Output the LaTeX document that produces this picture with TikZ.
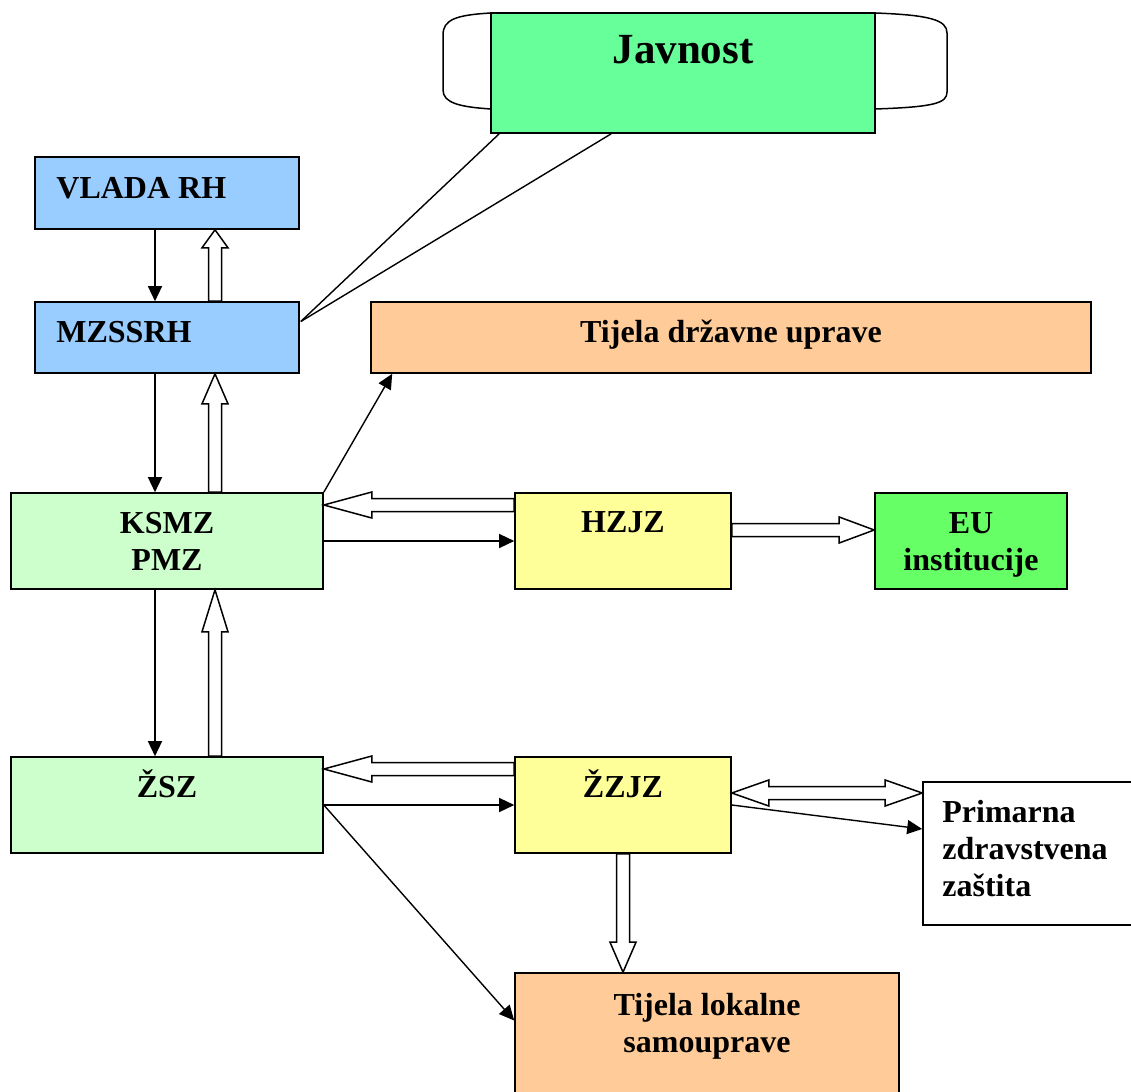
\documentclass[tikz,border=0pt]{standalone}
\usepackage{fontspec}
\setmainfont{Liberation Serif}
\usetikzlibrary{calc,positioning,arrows.meta}

\definecolor{blueBox}{HTML}{99CCFF}
\definecolor{javGreen}{HTML}{66FF99}
\definecolor{orangeBox}{HTML}{FFCC99}
\definecolor{paleGreen}{HTML}{CCFFCC}
\definecolor{yellowBox}{HTML}{FFFF99}
\definecolor{euGreen}{HTML}{66FF66}

% hollow block arrow: start, end, head length
\newcommand{\blockarrow}[3]{%
	\coordinate (ba-s) at (#1);
	\coordinate (ba-e) at (#2);
	\coordinate (ba-b) at ($(ba-e)!#3pt!(ba-s)$);
	\draw[blockline] ($(ba-s)!6.5pt!90:(ba-e)$) -- ($(ba-b)!6.5pt!90:(ba-e)$) -- ($(ba-b)!13pt!90:(ba-e)$) -- (ba-e)
		-- ($(ba-b)!13pt!-90:(ba-e)$) -- ($(ba-b)!6.5pt!-90:(ba-e)$) -- ($(ba-s)!6.5pt!-90:(ba-e)$) -- cycle;
}
% same, with a head at both ends
\newcommand{\dblockarrow}[3]{%
	\coordinate (ba-s) at (#1);
	\coordinate (ba-e) at (#2);
	\coordinate (ba-a) at ($(ba-s)!#3pt!(ba-e)$);
	\coordinate (ba-b) at ($(ba-e)!#3pt!(ba-s)$);
	\draw[blockline] (ba-s) -- ($(ba-a)!13pt!90:(ba-e)$) -- ($(ba-a)!6.5pt!90:(ba-e)$) -- ($(ba-b)!6.5pt!90:(ba-e)$) -- ($(ba-b)!13pt!90:(ba-e)$) -- (ba-e)
		-- ($(ba-b)!13pt!-90:(ba-e)$) -- ($(ba-b)!6.5pt!-90:(ba-e)$) -- ($(ba-a)!6.5pt!-90:(ba-e)$) -- ($(ba-a)!13pt!-90:(ba-e)$) -- cycle;
}

\begin{document}
\begin{tikzpicture}[x=1pt,y=-1pt,>={Triangle[length=15pt,width=14pt]},
	box/.style={draw,line width=1.6pt,inner sep=0pt},
	lbl/.style={font=\fontsize{32}{37}\selectfont\bfseries,inner sep=0pt,align=center},
	conn/.style={line width=1.4pt},
	blockline/.style={draw,fill=white,line width=1.5pt,line join=miter}]
	\useasboundingbox (0,0) rectangle (1131,1091);
	\clip (0,0) rectangle (1131,1091);
	%
	\draw[line width=1.5pt,fill=white] (683,13) -- (491,13) .. controls (455,15) and (443,20) .. (443,35) -- (443,90)
		.. controls (443,103) and (460,107) .. (491,109) -- (875,109) .. controls (935,107) and (947,103) .. (947,92)
		-- (947,33) .. controls (947,20) and (930,15) .. (875,13) -- cycle;
	%
	\node[box,fill=javGreen,minimum width=384pt,minimum height=120pt] (javnost) at (683,73) {};
	\node[box,fill=blueBox,minimum width=264pt,minimum height=72pt] (vlada) at (167,193) {};
	\node[box,fill=blueBox,minimum width=264pt,minimum height=71pt] (mzssrh) at (167,337.5) {};
	\node[box,fill=orangeBox,minimum width=720pt,minimum height=71pt] (tdu) at (731,337.5) {};
	\node[box,fill=paleGreen,minimum width=312pt,minimum height=96pt] (ksmz) at (167,541) {};
	\node[box,fill=yellowBox,minimum width=216pt,minimum height=96pt] (hzjz) at (623,541) {};
	\node[box,fill=euGreen,minimum width=192pt,minimum height=96pt] (eu) at (971,541) {};
	\node[box,fill=paleGreen,minimum width=312pt,minimum height=96pt] (zsz) at (167,805) {};
	\node[box,fill=yellowBox,minimum width=216pt,minimum height=96pt] (zzjz) at (623,805) {};
	\node[box,fill=white,minimum width=227pt,minimum height=143pt] (pzz) at (1036.5,853.5) {};
	\node[box,fill=orangeBox,minimum width=384pt,minimum height=137pt] (tls) at (707,1041.5) {};
	%
	\node[lbl,font=\fontsize{43}{50}\selectfont\bfseries,anchor=base] (javnost-t) at ($(javnost.north)+(0,51)$) {Javnost};
	\node[lbl,anchor=base west] (vlada-t) at ($(vlada.north west)+(22,42)$) {VLADA RH};
	\node[lbl,anchor=base west] (mzssrh-t) at ($(mzssrh.north west)+(22,41)$) {MZSSRH};
	\node[lbl,anchor=base] (tdu-t) at ($(tdu.north)+(0,41)$) {Tijela državne uprave};
	\node[lbl,below=20pt of ksmz.north] (ksmz-t) {KSMZ\\PMZ};
	\node[lbl,anchor=base] (hzjz-t) at ($(hzjz.north)+(0,40)$) {HZJZ};
	\node[lbl,below=20pt of eu.north] (eu-t) {EU\\institucije};
	\node[lbl,anchor=base] (zsz-t) at ($(zsz.north)+(0,41)$) {ŽSZ};
	\node[lbl,anchor=base] (zzjz-t) at ($(zzjz.north)+(0,41)$) {ŽZJZ};
	\node[lbl,align=left,anchor=north west] (pzz-t) at ($(pzz.north west)+(20,19)$) {Primarna\\zdravstvena\\zaštita};
	\node[lbl,below=21pt of tls.north] (tls-t) {Tijela lokalne\\samouprave};
	%
	\draw[conn,->] ($(vlada.south)+(-12,0)$) -- ($(mzssrh.north)+(-12,0)$);
	\draw[conn,->] ($(mzssrh.south)+(-12,0)$) -- ($(ksmz.north)+(-12,0)$);
	\draw[conn,->] ($(ksmz.south)+(-12,0)$) -- ($(zsz.north)+(-12,0)$);
	\blockarrow{$(mzssrh.north)+(48,0)$}{$(vlada.south)+(48,0)$}{18}
	\blockarrow{$(ksmz.north)+(48,0)$}{$(mzssrh.south)+(48,0)$}{30}
	\blockarrow{$(zsz.north)+(48,0)$}{$(ksmz.south)+(48,0)$}{42}
	%
	\coordinate (mz-out) at ($(mzssrh.east)+(1,-16)$);
	\draw[conn] (mz-out) -- ($(javnost.south west)+(9,0)$);
	\draw[conn] (mz-out) -- ($(javnost.south west)+(121,0)$);
	\draw[conn,->] (ksmz.north east) -- ($(tdu.south west)+(22,0)$);
	%
	\blockarrow{$(hzjz.west)+(0,-36)$}{$(ksmz.east)+(0,-36)$}{48}
	\draw[conn,->] (ksmz.east) -- (hzjz.west);
	\blockarrow{$(hzjz.east)+(0,-11)$}{$(eu.west |- hzjz.east)+(0,-11)$}{35}
	%
	\blockarrow{$(zzjz.west)+(0,-36)$}{$(zsz.east)+(0,-36)$}{48}
	\draw[conn,->] (zsz.east) -- (zzjz.west);
	\draw[conn,->] (zsz.east) -- ($(tls.west)+(0,-21)$);
	\dblockarrow{$(zzjz.east)+(0,-12)$}{$(pzz.west |- zzjz.east)+(0,-12)$}{37}
	\draw[conn,->] (zzjz.east) -- ($(pzz.west)+(0,-24.5)$);
	\blockarrow{zzjz.south}{zzjz.south |- tls.north}{30}
\end{tikzpicture}
\end{document}
